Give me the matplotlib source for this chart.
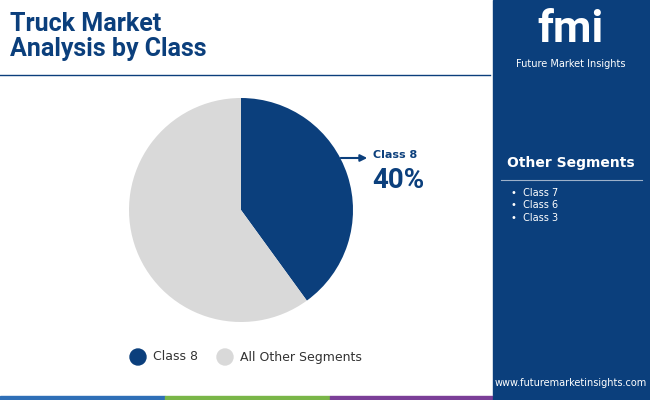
import matplotlib
matplotlib.use("Agg")
import matplotlib.pyplot as plt
from matplotlib.patches import Rectangle, Circle

categories = ["Class 8", "All Other Segments"]
values = [40, 60]
other_segments = ["Class 7", "Class 6", "Class 3"]
colors = ["#0b3f7c", "#d9d9d9"]
navy = "#0b3f7c"

fig = plt.figure(figsize=(6.5, 4), dpi=100)
W, H = 650, 400
bg = fig.add_axes([0, 0, 1, 1])
bg.set_xlim(0, W); bg.set_ylim(H, 0); bg.axis("off")

# title
bg.text(10, 12, "Truck Market\nAnalysis by Class", fontsize=18, fontweight="bold",
        color=navy, va="top", ha="left", family="Roboto", linespacing=1.05)
bg.plot([0, 490], [75, 75], color=navy, lw=1)

# right panel
bg.add_patch(Rectangle((493, 0), 157, 400, color=navy))
bg.text(571, 30, "fmi", fontsize=32, fontweight="bold", color="white", ha="center", va="center", family="Roboto")
bg.text(571, 64, "Future Market Insights", fontsize=7, color="white", ha="center", va="center")
bg.text(571, 163, "Other Segments", fontsize=10, fontweight="bold", color="white", ha="center", va="center")
bg.plot([501, 642], [180, 180], color="white", lw=0.8, alpha=0.6)
for i, s in enumerate(other_segments):
    bg.text(511, 193 + i * 12.5, "•  " + s, fontsize=7, color="white", va="center")
bg.text(571, 383, "www.futuremarketinsights.com", fontsize=7, color="white", ha="center", va="center")

# bottom stripe
for x0, x1, c in [(0, 165, "#2f6fb7"), (165, 330, "#7ab648"), (330, 493, "#7b3f98"), (493, 650, "#0b3f7c")]:
    bg.add_patch(Rectangle((x0, 396), x1 - x0, 4, color=c))

# pie
R = 112
ax = fig.add_axes([(241 - R) / W, 1 - (210 + R) / H, 2 * R / W, 2 * R / H])
ax.pie(values, colors=colors, startangle=90, counterclock=False,
       wedgeprops=dict(linewidth=0))
ax.set_xlim(-1, 1); ax.set_ylim(-1, 1)
ax.set_aspect("equal")

# annotation
bg.annotate("", xy=(370, 158), xytext=(338, 158),
            arrowprops=dict(arrowstyle="-|>", color=navy, lw=1.5, mutation_scale=10))
bg.text(373, 155, categories[0], fontsize=8, fontweight="bold", color=navy, va="center")
bg.text(372, 181, f"{values[0]}%", fontsize=20, fontweight="bold", color=navy, va="center", family="Roboto")

# legend
for x, lab, c in [(138, categories[0], colors[0]), (225, categories[1], colors[1])]:
    bg.add_patch(Circle((x, 357), 8, color=c))
    bg.text(x + 15, 357, lab, fontsize=9, color="#333333", va="center")

fig.savefig("out.png", dpi=100)
